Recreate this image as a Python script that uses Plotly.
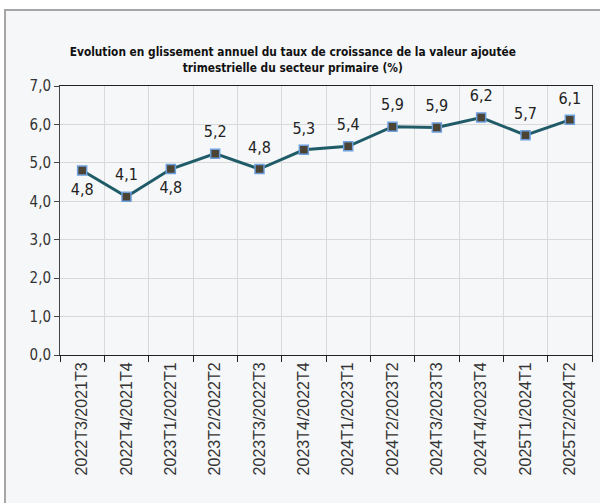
import plotly.graph_objects as go

# quarters (year-on-year comparison)
categories = ['2022T3/2021T3', '2022T4/2021T4', '2023T1/2022T1', '2023T2/2022T2',
              '2023T3/2022T3', '2023T4/2022T4', '2024T1/2023T1', '2024T2/2023T2',
              '2024T3/2023T3', '2024T4/2023T4', '2025T1/2024T1', '2025T2/2024T2']
growth = [4.80, 4.12, 4.84, 5.24, 4.84, 5.34, 5.43, 5.94, 5.92, 6.18, 5.72, 6.12]
label_pos = ['bottom center', 'top center', 'bottom center', 'top center',
             'top center', 'top center', 'top center', 'top center',
             'top center', 'top center', 'top center', 'top center']

narrow = 'DejaVu Sans Condensed, Liberation Sans Narrow, Arial Narrow, sans-serif'

line_trace = go.Scatter(
    x=categories, y=growth,
    mode='lines+markers',
    line=dict(color='#1f5c68', width=3),
    marker=dict(symbol='square', size=9, color='#4b4434',
                line=dict(color='#6d9fdc', width=1.5)),
    showlegend=False,
    hoverinfo='skip',
)

# data labels: invisible bigger markers push the text a bit further from the points
label_trace = go.Scatter(
    x=categories, y=growth,
    mode='markers+text',
    marker=dict(size=18, opacity=0),
    texttemplate='%{y:.1f}',
    textposition=label_pos,
    textfont=dict(family=narrow, size=16, color='#222222'),
    cliponaxis=False,
    showlegend=False,
)

layout = go.Layout(
    width=600, height=503,
    separators=',.',
    paper_bgcolor='white',
    plot_bgcolor='white',
    margin=dict(l=60, r=8, t=86, b=148),
    title=dict(
        text='Evolution en glissement annuel du taux de croissance de la valeur ajoutée<br>trimestrielle du secteur primaire (%)',
        x=0.488, xanchor='center', xref='container',
        y=0.888, yanchor='middle',
        font=dict(family=narrow, size=11.8, color='#111111', weight='bold'),
    ),
    xaxis=dict(
        type='category', tickson='boundaries',
        showgrid=True, gridcolor='#d9d9d9', gridwidth=1,
        showline=True, linecolor='#222222', linewidth=1, mirror=True,
        ticks='outside', ticklen=6, tickcolor='#222222',
        tickangle=-90,
        tickfont=dict(family='Liberation Sans, Arial, sans-serif', size=16, color='#333333'),
        range=[-0.5, 11.5],
    ),
    yaxis=dict(
        range=[0, 7], dtick=1, tickformat='.1f',
        showgrid=True, gridcolor='#d9d9d9', gridwidth=1,
        showline=True, linecolor='#444444', linewidth=1, mirror=True,
        ticks='outside', ticklen=5, tickcolor='#444444',
        tickfont=dict(family=narrow, size=15, color='#333333'),
        zeroline=False,
    ),
    shapes=[dict(
        type='rect', xref='paper', yref='paper', layer='below',
        x0=(5 - 60) / 532, x1=(610 - 60) / 532,
        y0=(355 - 515) / 269, y1=(355 - 10) / 269,
        fillcolor='#f6f7f9', line=dict(color='#a6a6a6', width=2),
    )],
)

fig = go.Figure(data=[line_trace, label_trace], layout=layout)
# drop the default 8px page margin so the figure sits at the window's corner
fig.write_html('out.html', config={'displayModeBar': False},
               post_script="document.body.style.margin='0';")
